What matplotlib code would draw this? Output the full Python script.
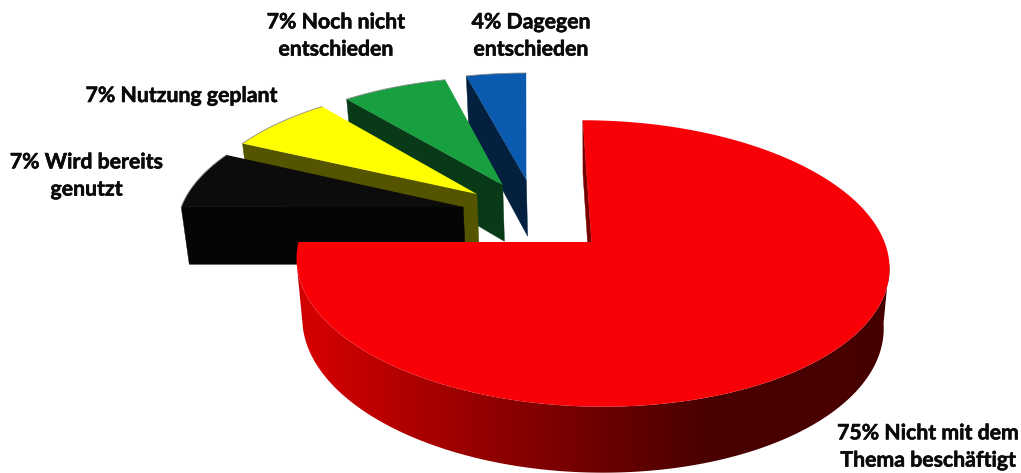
import matplotlib
matplotlib.use('Agg')
import matplotlib.pyplot as plt
import matplotlib.patheffects as pe
import numpy as np
from matplotlib.patches import Polygon

# data
labels = ['Nicht mit dem\nThema beschäftigt', 'Wird bereits\ngenutzt', 'Nutzung geplant',
          'Noch nicht\nentschieden', 'Dagegen\nentschieden']
values = [75, 7, 7, 7, 4]

# style per slice
top_colors = ['#f80006', '#0c0c0c', '#ffff00', '#18a040', '#0a5ab0']
cut_colors = ['#7a0000', '#050505', '#555500', '#083a18', '#03213f']
explode_x = [0.0, -0.446, -0.40, -0.308, -0.222]
explode_y = [0.0, 0.26, 0.361, 0.434, 0.474]
label_x = [928, 86.5, 181.5, 336, 531]
label_y = [447, 176, 96, 36, 36]

# perspective of the pie, pixels
cx, cy = 591.5, 242
f, g, shear = 293, 140, -10
k = 0.15
thick = 60
shrink = 0.02


def project(x, y, z=0.0):
    den = (1 + k * y) * (1 + shrink * z)
    return cx + (f * x + shear * y) / den, cy + (-g * y + thick * z) / den


def rim(a0, a1, ox, oy, z=0.0, n=200):
    a = np.radians(np.linspace(a0, a1, n))
    return project(ox + np.sin(a), oy + np.cos(a), z)


fig = plt.figure(figsize=(10.21, 4.73), dpi=100)
ax = fig.add_axes([0, 0, 1, 1])
ax.set_xlim(0, 1021)
ax.set_ylim(473, 0)
ax.axis('off')

edges = np.cumsum([0] + values) / sum(values) * 360

# back to front: blue first, red last
for i in [4, 3, 2, 1, 0]:
    a0, a1 = edges[i], edges[i + 1]
    ox, oy = explode_x[i], explode_y[i]

    # cut face
    cut_a = np.radians(a0)
    rx, ry = ox + np.sin(cut_a), oy + np.cos(cut_a)
    cut = [project(rx, ry), project(ox, oy), project(ox, oy, 1), project(rx, ry, 1)]
    ax.fill(*zip(*cut), color=cut_colors[i], lw=0.3, zorder=i * -10 + 50)

    # rounded outer wall only shows on the big slice, shaded left to right
    if i == 0:
        # start and end where the ellipse turns, so the sides run straight
        turn = np.degrees(np.arcsin(k))
        tx, ty = rim(90 + turn, 270 - turn, ox, oy, 0)
        bx, by = rim(90 + turn, 270 - turn, ox, oy, 1)
        wall = Polygon(np.c_[np.r_[tx, bx[::-1]], np.r_[ty, by[::-1]]], closed=True,
                       transform=ax.transData, fc='none', ec='none')
        ax.add_patch(wall)
        px = np.arange(280, 900)
        shade = np.interp(px, [300, 313, 447, 580, 647, 707, 900],
                          [0.82, 0.83, 0.63, 0.45, 0.36, 0.29, 0.28])
        grad = np.zeros((1, len(px), 3))
        grad[0, :, 0] = shade
        im = ax.imshow(grad, extent=(280, 900, 480, 240), aspect='auto', zorder=51)
        im.set_clip_path(wall)
        ax.set_xlim(0, 1021)
        ax.set_ylim(473, 0)

    rx, ry = rim(a0, a1, ox, oy)
    ax_, ay_ = project(ox, oy)
    ax.fill(np.r_[ax_, rx], np.r_[ay_, ry], color=top_colors[i], lw=0, zorder=i * -10 + 52)
    if i > 0:
        ax.plot(rx, ry, color='#8a8a8a', lw=0.6, zorder=i * -10 + 53)

plt.rcParams['font.family'] = ['Lato', 'DejaVu Sans']
for i in range(len(values)):
    ax.text(label_x[i], label_y[i], f'{values[i]}% {labels[i]}', ha='center', va='center',
            fontsize=15.3, fontweight='bold', color='#0a0a0a', linespacing=1.45, zorder=100,
            path_effects=[pe.withStroke(linewidth=0.4, foreground='#0a0a0a')])

fig.savefig('out.png', dpi=100, facecolor='white')
